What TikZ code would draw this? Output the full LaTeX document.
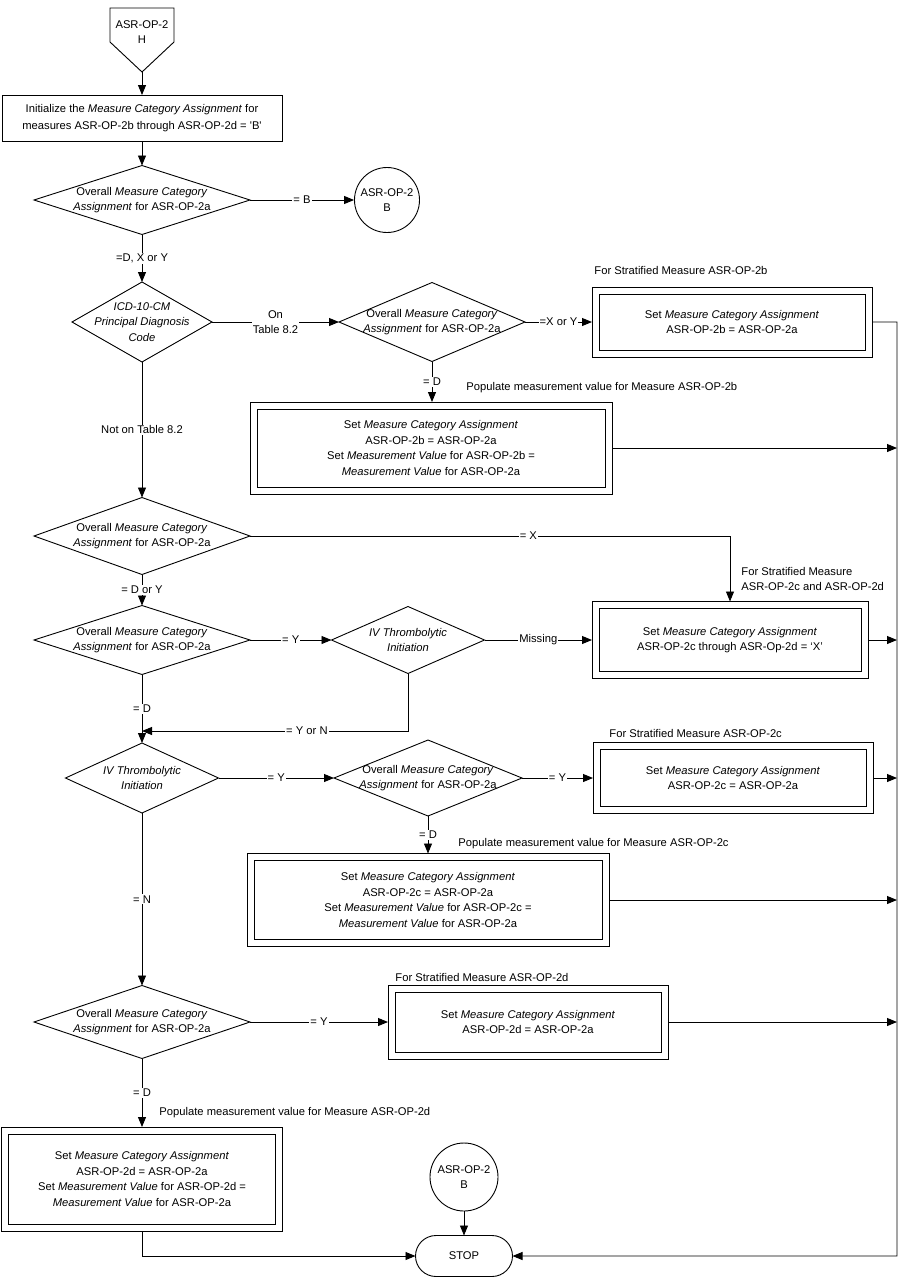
\documentclass[tikz,border=0pt]{standalone}
\usepackage{fontspec}
\setmainfont{Liberation Sans}
\usetikzlibrary{arrows.meta,shapes.geometric,shapes.misc}
\begin{document}
\begin{tikzpicture}[x=1pt,y=-1pt,line width=0.9pt,font=\fontsize{11.2}{15.5}\selectfont,
    arr/.style={-{Triangle[length=10pt,width=8pt]}},
    lbl/.style={fill=white,inner sep=1pt,align=center},
    txt/.style={align=center,inner sep=0pt},
    dia/.style={draw,diamond,inner sep=0pt,outer sep=0pt},
    box/.style={draw,rectangle,inner sep=0pt,outer sep=0pt,align=center},
    dbox/.style={box,path picture={\draw([shift={(7,7)}]path picture bounding box.north west)rectangle([shift={(-7,-7)}]path picture bounding box.south east);}},
    conn/.style={draw,circle,minimum size=65,inner sep=0pt,align=center},
    note/.style={anchor=west,inner sep=0pt,align=left}]
    \useasboundingbox(0,0)rectangle(900,1286);
    \node[txt](h)at(142,32){ASR-OP-2\\H};
    \draw(110,8)--(174,8)--(174,42)--(142,72)coordinate(hp)--(110,42)--cycle;
    \node[box,minimum width=280,minimum height=46](b1)at(142,118){Initialize the \textit{Measure Category Assignment} for\\[2pt]measures ASR-OP-2b through ASR-OP-2d = \textquotesingle B\textquotesingle};
    \node[dia,minimum width=216,minimum height=69,label={[txt]center:{Overall \textit{Measure Category}\\\textit{Assignment} for ASR-OP-2a}}](d1)at(142,200){};
    \node[conn](c1)at(387,200){ASR-OP-2\\B};
    \node[dia,minimum width=140,minimum height=80,label={[txt]center:{\textit{ICD-10-CM}\\\textit{Principal Diagnosis}\\\textit{Code}}}](d2)at(142,322){};
    \node[dia,minimum width=186,minimum height=79,label={[txt]center:{Overall \textit{Measure Category}\\\textit{Assignment} for ASR-OP-2a}}](d3)at(432,322){};
    \node[dbox,minimum width=280,minimum height=70](b2)at(732,322){Set \textit{Measure Category Assignment}\\ASR-OP-2b = ASR-OP-2a};
    \node[note](n1)at(594,270){For Stratified Measure ASR-OP-2b};
    \node[dbox,minimum width=362,minimum height=92](b3)at(431,448){Set \textit{Measure Category Assignment}\\ASR-OP-2b = ASR-OP-2a\\Set \textit{Measurement Value} for ASR-OP-2b =\\\textit{Measurement Value} for ASR-OP-2a};
    \node[note](n2)at(466,388){Populate measurement value for Measure ASR-OP-2b};
    \node[dia,minimum width=216,minimum height=77,label={[txt]center:{Overall \textit{Measure Category}\\\textit{Assignment} for ASR-OP-2a}}](d4)at(142,536){};
    \node[dbox,minimum width=276,minimum height=77](b4)at(730,640){Set \textit{Measure Category Assignment}\\ASR-OP-2c through ASR-Op-2d = ‘X’};
    \node[note](n3)at(741,579){For Stratified Measure\\ASR-OP-2c and ASR-OP-2d};
    \node[dia,minimum width=216,minimum height=69,label={[txt]center:{Overall \textit{Measure Category}\\\textit{Assignment} for ASR-OP-2a}}](d5)at(142,640){};
    \node[dia,minimum width=153,minimum height=67,label={[txt]center:{\textit{IV Thrombolytic}\\\textit{Initiation}}}](d6)at(408,640){};
    \coordinate(j1)at(142,731);
    \node[dia,minimum width=153,minimum height=70,label={[txt]center:{\textit{IV Thrombolytic}\\\textit{Initiation}}}](d7)at(142,778){};
    \node[dia,minimum width=188,minimum height=76,label={[txt]center:{Overall \textit{Measure Category}\\\textit{Assignment} for ASR-OP-2a}}](d8)at(428,778){};
    \node[dbox,minimum width=280,minimum height=71](b5)at(733,778){Set \textit{Measure Category Assignment}\\ASR-OP-2c = ASR-OP-2a};
    \node[note](n4)at(609,733){For Stratified Measure ASR-OP-2c};
    \node[dbox,minimum width=362,minimum height=93](b6)at(428,900){Set \textit{Measure Category Assignment}\\ASR-OP-2c = ASR-OP-2a\\Set \textit{Measurement Value} for ASR-OP-2c =\\\textit{Measurement Value} for ASR-OP-2a};
    \node[note](n5)at(458,844){Populate measurement value for Measure ASR-OP-2c};
    \node[dia,minimum width=216,minimum height=73,label={[txt]center:{Overall \textit{Measure Category}\\\textit{Assignment} for ASR-OP-2a}}](d9)at(142,1022){};
    \node[dbox,minimum width=280,minimum height=74](b7)at(528,1022){Set \textit{Measure Category Assignment}\\ASR-OP-2d = ASR-OP-2a};
    \node[note](n6)at(395,977){For Stratified Measure ASR-OP-2d};
    \node[dbox,minimum width=281,minimum height=104](b8)at(142,1179){Set \textit{Measure Category Assignment}\\ASR-OP-2d = ASR-OP-2a\\Set \textit{Measurement Value} for ASR-OP-2d =\\\textit{Measurement Value} for ASR-OP-2a};
    \node[note](n7)at(159,1113){Populate measurement value for Measure ASR-OP-2d};
    \node[conn,minimum size=68](c2)at(464,1177){ASR-OP-2\\B};
    \node[draw,rounded rectangle,minimum width=97,minimum height=41,inner sep=0pt,outer sep=0pt](stop)at(464,1256){STOP};
    \coordinate(bus)at(897,1256);
    \draw[arr](hp)--(b1);
    \draw[arr](b1)--(d1);
    \draw[arr](d1)--node[lbl]{= B}(c1);
    \draw[arr](d1)--node[lbl]{=D, X or Y}(d2);
    \draw[arr](d2)--node[lbl]{On\\Table 8.2}(d3);
    \draw[arr](d3)--node[lbl]{=X or Y}(b2);
    \draw[arr](d3)--node[lbl]{= D}(d3|-b3.north);
    \draw[arr](d2)--node[lbl]{Not on Table 8.2}(d4);
    \draw[arr](d4)-|node[lbl,pos=0.29]{= X}(b4);
    \draw[arr](d4)--node[lbl]{= D or Y}(d5);
    \draw[arr](d5)--node[lbl]{= Y}(d6);
    \draw[arr](d6)--node[lbl]{Missing}(b4);
    \draw[arr](d6)|-node[lbl,pos=0.69]{= Y or N}(j1);
    \draw[arr](d5)--node[lbl]{= D}(d7);
    \draw[arr](d7)--node[lbl]{= Y}(d8);
    \draw[arr](d8)--node[lbl]{= Y}(b5);
    \draw[arr](d8)--node[lbl]{= D}(b6);
    \draw[arr](d7)--node[lbl]{= N}(d9);
    \draw[arr](d9)--node[lbl]{= Y}(b7);
    \draw[arr](d9)--node[lbl]{= D}(b8);
    \draw[arr](b8)|-(stop);
    \draw[arr](c2)--(stop);
    \draw[arr](b2)-|(bus)--(stop);
    \foreach \b in {b3,b4,b5,b6,b7}\draw[arr](\b)--(\b-|bus);
\end{tikzpicture}
\end{document}
